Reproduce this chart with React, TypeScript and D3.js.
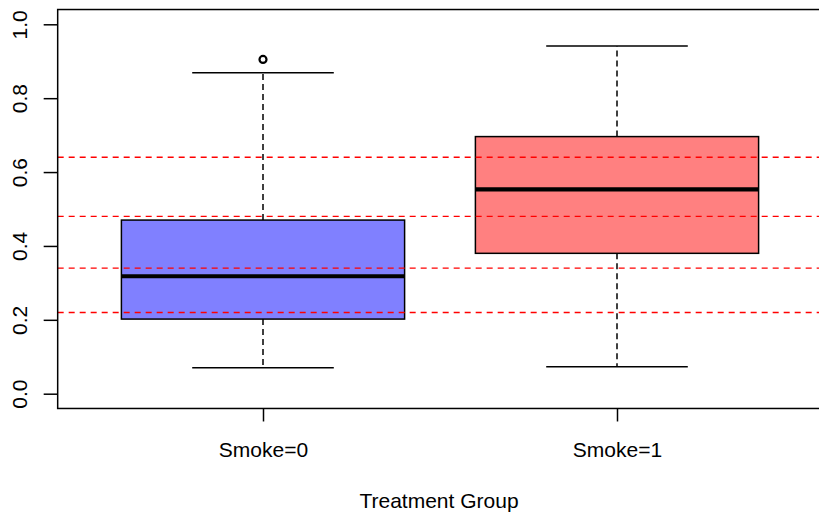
import React, { useEffect, useRef } from 'react';
import * as d3 from 'd3';

// data
const groups = ['Smoke=0', 'Smoke=1'];
const lowerWhisker = [0.070, 0.073];
const lowerQuartile = [0.202, 0.380];
const medians = [0.318, 0.553];
const upperQuartile = [0.470, 0.696];
const upperWhisker = [0.869, 0.941];
const outliers = [[0.905], []];
const boxFills = ['#8080FF', '#FF8080'];
const refLines = [0.22, 0.34, 0.48, 0.64];
const yTicks = [0, 0.2, 0.4, 0.6, 0.8, 1.0];

const App = () => {
    const ref = useRef<SVGSVGElement>(null);

    useEffect(() => {
        document.body.style.margin = '0';
        const svgWidth = 819;
        const svgHeight = 514;
        const svg = d3.select(ref.current)
            .attr('width', svgWidth)
            .attr('height', svgHeight);
        svg.selectAll('*').remove();

        const font = '"Liberation Sans", Arial, sans-serif';

        // x: group index 1..n, R-style limits with 4% padding
        const xScale = d3.scaleLinear().domain([1, 2]).range([263, 617]);
        const yScale = d3.scaleLinear().domain([0, 1]).range([393.7, 24.3]);
        const xlim = [0.42, 2.58];
        const ylim = [-0.04, 1.04];

        const boxHalf = 0.4;
        const capHalf = 0.2;

        const g = svg.append('g');

        groups.forEach((name, i) => {
            const cx = xScale(i + 1);
            // whiskers (dashed)
            g.append('line')
                .attr('x1', cx).attr('x2', cx)
                .attr('y1', yScale(upperQuartile[i])).attr('y2', yScale(upperWhisker[i]))
                .attr('stroke', '#000').attr('stroke-width', 1.5)
                .attr('stroke-dasharray', '6,4');
            g.append('line')
                .attr('x1', cx).attr('x2', cx)
                .attr('y1', yScale(lowerQuartile[i])).attr('y2', yScale(lowerWhisker[i]))
                .attr('stroke', '#000').attr('stroke-width', 1.5)
                .attr('stroke-dasharray', '6,4');
            // caps
            [upperWhisker[i], lowerWhisker[i]].forEach(v => {
                g.append('line')
                    .attr('x1', xScale(i + 1 - capHalf)).attr('x2', xScale(i + 1 + capHalf))
                    .attr('y1', yScale(v)).attr('y2', yScale(v))
                    .attr('stroke', '#000').attr('stroke-width', 1.5);
            });
            // box
            g.append('rect')
                .attr('x', xScale(i + 1 - boxHalf))
                .attr('y', yScale(upperQuartile[i]))
                .attr('width', xScale(i + 1 + boxHalf) - xScale(i + 1 - boxHalf))
                .attr('height', yScale(lowerQuartile[i]) - yScale(upperQuartile[i]))
                .attr('fill', boxFills[i])
                .attr('stroke', '#000').attr('stroke-width', 1.5);
            // median
            g.append('line')
                .attr('x1', xScale(i + 1 - boxHalf)).attr('x2', xScale(i + 1 + boxHalf))
                .attr('y1', yScale(medians[i])).attr('y2', yScale(medians[i]))
                .attr('stroke', '#000').attr('stroke-width', 4.2);
            // outliers
            outliers[i].forEach(v => {
                g.append('circle')
                    .attr('cx', cx).attr('cy', yScale(v)).attr('r', 3.5)
                    .attr('fill', 'none').attr('stroke', '#000').attr('stroke-width', 2.2);
            });
        });

        // red reference lines
        svg.selectAll('line.ref')
            .data(refLines)
            .enter()
            .append('line')
            .attr('class', 'ref')
            .attr('x1', xScale(xlim[0])).attr('x2', xScale(xlim[1]))
            .attr('y1', d => yScale(d)).attr('y2', d => yScale(d))
            .attr('stroke', '#FF0000').attr('stroke-width', 1.4)
            .attr('stroke-dasharray', '6,5');

        // plot frame
        svg.append('rect')
            .attr('x', xScale(xlim[0]))
            .attr('y', yScale(ylim[1]))
            .attr('width', xScale(xlim[1]) - xScale(xlim[0]))
            .attr('height', yScale(ylim[0]) - yScale(ylim[1]))
            .attr('fill', 'none')
            .attr('stroke', '#000').attr('stroke-width', 1.5);

        // y axis
        const y_axis = d3.axisLeft(yScale)
            .tickValues(yTicks)
            .tickSize(14)
            .tickPadding(0)
            .tickFormat(d3.format('.1f'));
        const yAxisG = svg.append('g')
            .attr('transform', `translate(${xScale(xlim[0])},0)`)
            .call(y_axis);
        yAxisG.select('.domain').remove();
        yAxisG.selectAll('line').attr('stroke', '#000').attr('stroke-width', 1.5);
        yAxisG.selectAll('text')
            .attr('x', null).attr('dy', null)
            .attr('transform', 'translate(-31,0) rotate(-90)')
            .attr('text-anchor', 'middle')
            .attr('fill', '#000')
            .style('font-family', font)
            .style('font-size', '21px');

        // x axis
        const bandScale = d3.scaleOrdinal<string, number>()
            .domain(groups)
            .range(groups.map((_, i) => xScale(i + 1)));
        const x_axis = d3.axisBottom(bandScale as any)
            .tickSize(13)
            .tickPadding(0);
        const xAxisG = svg.append('g')
            .attr('transform', `translate(0,${yScale(ylim[0])})`)
            .call(x_axis);
        xAxisG.select('.domain').remove();
        xAxisG.selectAll('line').attr('stroke', '#000').attr('stroke-width', 1.5);
        xAxisG.selectAll('text')
            .attr('y', 48.5).attr('dy', null)
            .attr('fill', '#000')
            .style('font-family', font)
            .style('font-size', '21px');

        // axis title
        svg.append('text')
            .attr('x', (xScale(xlim[0]) + xScale(xlim[1])) / 2 - 1)
            .attr('y', 508)
            .attr('text-anchor', 'middle')
            .style('font-family', font)
            .style('font-size', '21px')
            .text('Treatment Group');
    }, []);

    return <svg ref={ref} style={{ display: 'block' }} />;
};

export default App;
